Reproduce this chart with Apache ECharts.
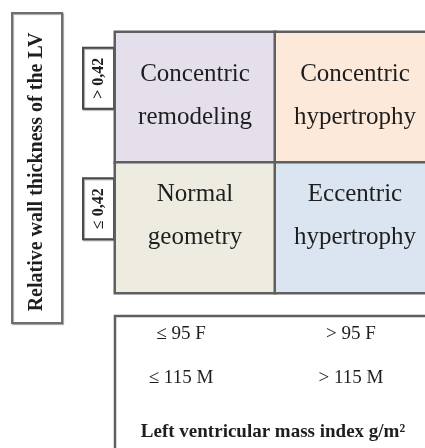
<!DOCTYPE html>
<html>
<head>
<meta charset="utf-8">
<script src="https://cdn.jsdelivr.net/npm/echarts@6/dist/echarts.min.js"></script>
<style>
html,body{margin:0;padding:0;background:#fff;}
#c{width:425px;height:448px;}
</style>
</head>
<body>
<div id="c"></div>
<script>
// ---- data ----
const massColumns = ['low', 'high'];
const femaleTicks = ['≤ 95 F', '> 95 F'];
const maleTicks = ['≤ 115 M', '> 115 M'];
const rwtTicks = ['> 0,42', '≤ 0,42'];
const cellRows = [
  ['Concentric\nremodeling', 'Concentric\nhypertrophy'],
  ['Normal\ngeometry', 'Eccentric\nhypertrophy']
];
const xTitle = 'Left ventricular mass index g/m²';
const yTitle = 'Relative wall thickness of the LV';

// ---- styles ----
const SERIF = "'Liberation Serif','Times New Roman',serif";
const cellColors = [['#e5dfec', '#fde9d9'], ['#eeece1', '#dbe5f1']];
const lineColor = '#5f5f5f';
const textColor = '#1e1e1e';

const data = [];
cellRows.forEach((row, r) => {
  row.forEach((name, c) => {
    data.push({
      value: [c, r, 1],
      name: name,
      itemStyle: { color: cellColors[r][c] },
      label: { offset: [0, r === 0 ? -1 : -12] }
    });
  });
});

const chart = echarts.init(document.getElementById('c'), null, { renderer: 'canvas' });
chart.setOption({
  animation: false,
  backgroundColor: '#ffffff',
  grid: { left: 115, top: 32, width: 320, height: 261, outerBoundsMode: 'none', containLabel: false },
  xAxis: {
    type: 'category', data: massColumns,
    axisLine: { show: false }, axisTick: { show: false }, axisLabel: { show: false },
    splitLine: { show: false }
  },
  yAxis: {
    type: 'category', data: rwtTicks, inverse: true,
    axisLine: { show: false }, axisTick: { show: false }, axisLabel: { show: false },
    splitLine: { show: false }
  },
  series: [{
    type: 'heatmap',
    data: data,
    itemStyle: { borderColor: lineColor, borderWidth: 2.5 },
    emphasis: { disabled: true },
    label: {
      show: true,
      formatter: p => p.name,
      fontFamily: SERIF,
      fontSize: 25,
      lineHeight: 43,
      color: textColor
    }
  }]
});

// ---- annotations tied to axis positions ----
const colX = massColumns.map((_, i) => chart.convertToPixel({ xAxisIndex: 0 }, i));
const rowY = rwtTicks.map((_, i) => chart.convertToPixel({ yAxisIndex: 0 }, i));
const gridLeft = 115;

const graphics = [];
// big left title box
graphics.push({
  type: 'rect', shape: { x: 12, y: 13, width: 50, height: 310 },
  style: { fill: '#fff', stroke: '#6f6f6f', lineWidth: 2, shadowColor: 'rgba(0,0,0,0.35)', shadowOffsetX: 1, shadowOffsetY: 1, shadowBlur: 1 }
});
graphics.push({
  type: 'text', x: 37, y: 172, rotation: Math.PI / 2,
  style: { text: yTitle, fontFamily: SERIF, fontWeight: 'bold', fontSize: 20,
    fill: textColor, align: 'center', verticalAlign: 'middle' }
});
// small row boxes
rwtTicks.forEach((t, i) => {
  const cy = rowY[i] - 19;
  graphics.push({
    type: 'rect', shape: { x: gridLeft - 32, y: cy - 30.5, width: 31, height: 61 },
    style: { fill: '#fff', stroke: '#4a4a4a', lineWidth: 2, shadowColor: 'rgba(0,0,0,0.35)', shadowOffsetX: 1, shadowOffsetY: 1, shadowBlur: 1 }
  });
  graphics.push({
    type: 'text', x: gridLeft - 16.5, y: cy, rotation: Math.PI / 2,
    style: { text: t, fontFamily: SERIF, fontWeight: 'bold', fontSize: 16,
      fill: textColor, align: 'center', verticalAlign: 'middle' }
  });
});
// bottom box
graphics.push({
  type: 'rect', shape: { x: gridLeft, y: 316, width: 400, height: 200 },
  style: { fill: '#fff', stroke: lineColor, lineWidth: 2.5 }
});
const tickShift = [-14, -4];
femaleTicks.forEach((t, i) => {
  graphics.push({
    type: 'text', x: colX[i] + tickShift[i], y: 334,
    style: { text: t, fontFamily: SERIF, fontSize: 19, fill: textColor,
      align: 'center', verticalAlign: 'middle' }
  });
});
maleTicks.forEach((t, i) => {
  graphics.push({
    type: 'text', x: colX[i] + tickShift[i], y: 378,
    style: { text: t, fontFamily: SERIF, fontSize: 19, fill: textColor,
      align: 'center', verticalAlign: 'middle' }
  });
});
graphics.push({
  type: 'text', x: 273, y: 432,
  style: { text: xTitle, fontFamily: SERIF, fontWeight: 'bold', fontSize: 19,
    fill: textColor, align: 'center', verticalAlign: 'middle' }
});
chart.setOption({ graphic: graphics });
</script>
</body>
</html>
